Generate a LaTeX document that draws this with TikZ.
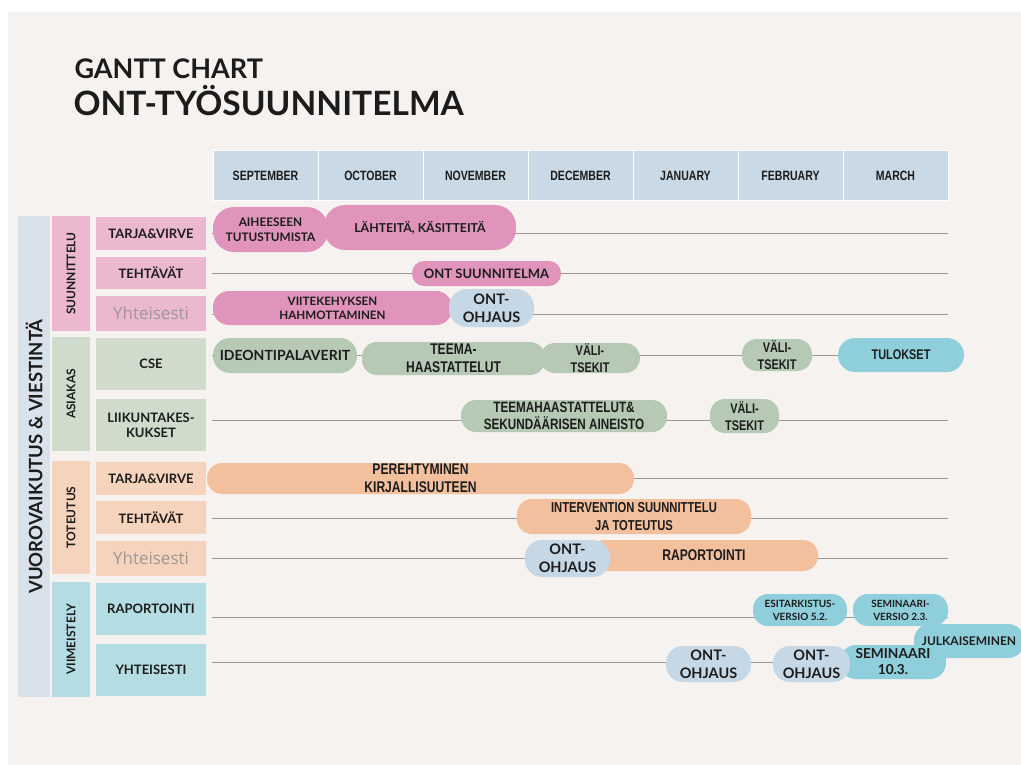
\documentclass[tikz,border=0pt]{standalone}
\usepackage{fontspec}
\setmainfont{Lato}
\newfontfamily\narrowfont{Liberation Sans}[FakeStretch=0.78]
\newfontfamily\lightfont{Open Sans}
\definecolor{paper}{HTML}{F6F2EF}
\definecolor{hdr}{HTML}{C9D9E5}
\definecolor{vuorocol}{HTML}{D9E2EA}
\definecolor{pinkbox}{HTML}{EBB8D0}
\definecolor{pinkbar}{HTML}{E094BB}
\definecolor{greenbox}{HTML}{CFDBCB}
\definecolor{greenbar}{HTML}{B6C9B4}
\definecolor{peachbox}{HTML}{F6D3BC}
\definecolor{peachbar}{HTML}{F2C09D}
\definecolor{cyanbox}{HTML}{B4DCE3}
\definecolor{cyanbar}{HTML}{8FCFDB}
\definecolor{ohjaus}{HTML}{C6D8E6}
\definecolor{linegrey}{HTML}{9C9896}
\definecolor{ink}{HTML}{1C1C1C}
\tikzset{
  month/.style={fill=hdr, draw=white, line width=1pt, minimum width=105pt, minimum height=50pt,
    inner sep=0pt, text=ink, font=\narrowfont\fontsize{13.5}{13.5}\selectfont\bfseries},
  side/.style={fill=#1, rotate=90, inner sep=0pt, text=ink},
  lbl/.style={fill=#1, minimum width=110pt, inner sep=0pt, align=center, text=ink,
    font=\fontsize{13}{15}\selectfont\bfseries},
  yht/.style={fill=#1, minimum width=110pt, inner sep=0pt, text=linegrey,
    font=\lightfont\fontsize{17}{17}\selectfont},
  bar/.style={fill=#1, rounded corners=15pt, inner sep=0pt, align=center, text=ink,
    font=\fontsize{13}{15}\selectfont\bfseries},
  nbar/.style={bar=#1, font=\narrowfont\fontsize{15}{17}\selectfont\bfseries},
  ohjbar/.style={bar=ohjaus, font=\fontsize{14.5}{18}\selectfont\bfseries},
  rowline/.style={draw=linegrey, line width=0.9pt}
}
\begin{document}
\begin{tikzpicture}[x=1pt, y=-1pt]
  \useasboundingbox (0,0) rectangle (1021,765);
  \clip (0,0) rectangle (1021,765);
  \fill[white] (0,0) rectangle (1021,765);
  \fill[paper] (8,12) rectangle (1021,765);

  \node[anchor=base west, text=ink, font=\fontsize{27}{27}\selectfont\bfseries] (gantt) at (71,79) {GANTT CHART};
  \node[anchor=base west, text=ink, font=\fontsize{33.5}{33.5}\selectfont\bfseries] (title) at (70,116) {ONT-TYÖSUUNNITELMA};

  \node[month] (sep) at (265.5,176) {SEPTEMBER};
  \node[month] (oct) at (370.5,176) {OCTOBER};
  \node[month] (nov) at (475.5,176) {NOVEMBER};
  \node[month] (dec) at (580.5,176) {DECEMBER};
  \node[month] (jan) at (685.5,176) {JANUARY};
  \node[month] (feb) at (790.5,176) {FEBRUARY};
  \node[month] (mar) at (895.5,176) {MARCH};

  \node[side=vuorocol, minimum width=481pt, minimum height=32pt,
    font=\fontsize{18.5}{18.5}\selectfont\bfseries] (vuoro) at (34,456.5) {VUOROVAIKUTUS \& VIESTINTÄ};
  \node[side=pinkbox, minimum width=115pt, minimum height=38pt,
    font=\fontsize{12}{12}\selectfont\bfseries] (suunn) at (71,273.5) {SUUNNITTELU};
  \node[side=greenbox, minimum width=114pt, minimum height=38pt,
    font=\fontsize{12}{12}\selectfont\bfseries] (asiakas) at (71,394) {ASIAKAS};
  \node[side=peachbox, minimum width=113pt, minimum height=38pt,
    font=\fontsize{12}{12}\selectfont\bfseries] (toteutus) at (71,517.5) {TOTEUTUS};
  \node[side=cyanbox, minimum width=115pt, minimum height=38pt,
    font=\fontsize{12}{12}\selectfont\bfseries] (viim) at (71,639.5) {VIIMEISTELY};

  \node[lbl=pinkbox, minimum height=33pt] (tv1) at (151,233.5) {TARJA\&VIRVE};
  \node[lbl=pinkbox, minimum height=32pt] (teh1) at (151,273) {TEHTÄVÄT};
  \node[yht=pinkbox, minimum height=35pt] (yht1) at (151,313.5) {Yhteisesti};
  \node[lbl=greenbox, minimum height=52pt] (cse) at (151,364) {CSE};
  \node[lbl=greenbox, minimum height=52pt] (liik) at (151,425) {LIIKUNTAKES-\\KUKSET};
  \node[lbl=peachbox, minimum height=33pt] (tv2) at (151,478.5) {TARJA\&VIRVE};
  \node[lbl=peachbox, minimum height=33pt] (teh2) at (151,517.5) {TEHTÄVÄT};
  \node[yht=peachbox, minimum height=35pt] (yht2) at (151,558.5) {Yhteisesti};
  \node[lbl=cyanbox, minimum height=52pt] (rap) at (151,609) {RAPORTOINTI};
  \node[lbl=cyanbox, minimum height=52pt] (yht3) at (151,670) {YHTEISESTI};

  \coordinate (s1) at (212,233);  \coordinate (e1) at (948,233);
  \coordinate (s2) at (212,273);  \coordinate (e2) at (948,273);
  \coordinate (s3) at (212,314);  \coordinate (e3) at (948,314);
  \coordinate (s4) at (212,355);  \coordinate (e4) at (948,355);
  \coordinate (s5) at (212,420);  \coordinate (e5) at (948,420);
  \coordinate (s6) at (212,478);  \coordinate (e6) at (948,478);
  \coordinate (s7) at (212,518);  \coordinate (e7) at (948,518);
  \coordinate (s8) at (212,558);  \coordinate (e8) at (948,558);
  \coordinate (s9) at (212,617);  \coordinate (e9) at (948,617);
  \coordinate (s10) at (212,662); \coordinate (e10) at (925,662);
  \begin{scope}[rowline]
    \draw (s1) -- (e1);
    \draw (s2) -- (e2);
    \draw (s3) -- (e3);
    \draw (s4) -- (e4);
    \draw (s5) -- (e5);
    \draw (s6) -- (e6);
    \draw (s7) -- (e7);
    \draw (s8) -- (e8);
    \draw (s9) -- (e9);
    \draw (s10) -- (e10);
  \end{scope}

  \node[bar=pinkbar, minimum width=192pt, minimum height=45pt, rounded corners=21pt,
    font=\fontsize{12.3}{14}\selectfont\bfseries] (lahteet) at (420,227.5) {LÄHTEITÄ, KÄSITTEITÄ};
  \node[bar=pinkbar, minimum width=115pt, minimum height=45pt, rounded corners=21pt,
    font=\fontsize{11.8}{15}\selectfont\bfseries] (aihe) at (270.5,229.5) {AIHEESEEN\\TUTUSTUMISTA};
  \node[bar=pinkbar, minimum width=149pt, minimum height=25pt, rounded corners=12pt] (ontsuun) at (486.5,273.5) {ONT SUUNNITELMA};
  \node[bar=pinkbar, minimum width=239pt, minimum height=34pt, rounded corners=16pt,
    font=\fontsize{11.6}{14}\selectfont\bfseries] (viite) at (332.5,308) {VIITEKEHYKSEN\\HAHMOTTAMINEN};
  \node[ohjbar, minimum width=85pt, minimum height=38pt, rounded corners=18pt] (ohj1) at (491.5,308) {ONT-\\OHJAUS};

  \node[bar=greenbar, minimum width=144pt, minimum height=35pt, rounded corners=17pt,
    font=\fontsize{14}{15}\selectfont\bfseries] (ideo) at (285,355.5) {IDEONTIPALAVERIT};
  \node[nbar=greenbar, minimum width=183pt, minimum height=33pt,
    font=\narrowfont\fontsize{15.5}{18}\selectfont\bfseries] (teema) at (453.5,358.5) {TEEMA-\\HAASTATTELUT};
  \node[nbar=greenbar, minimum width=100pt, minimum height=30pt,
    font=\narrowfont\fontsize{14}{17}\selectfont\bfseries] (vali1) at (590,358) {VÄLI-\\TSEKIT};
  \node[nbar=greenbar, minimum width=70pt, minimum height=32pt,
    font=\narrowfont\fontsize{14}{17}\selectfont\bfseries] (vali2) at (777,355) {VÄLI-\\TSEKIT};
  \node[nbar=cyanbar, minimum width=126pt, minimum height=34pt, rounded corners=17pt,
    font=\narrowfont\fontsize{14}{17}\selectfont\bfseries] (tulos) at (901,355) {TULOKSET};
  \node[nbar=greenbar, minimum width=206pt, minimum height=32pt] (teemah) at (564,416) {TEEMAHAASTATTELUT\&\\SEKUNDÄÄRISEN AINEISTO};
  \node[nbar=greenbar, minimum width=69pt, minimum height=34pt,
    font=\narrowfont\fontsize{14}{17}\selectfont\bfseries] (vali3) at (744.5,416) {VÄLI-\\TSEKIT};

  \node[nbar=peachbar, minimum width=427pt, minimum height=31pt,
    font=\narrowfont\fontsize{15.5}{18}\selectfont\bfseries] (pere) at (420.5,478.5) {PEREHTYMINEN\\KIRJALLISUUTEEN};
  \node[nbar=peachbar, minimum width=234pt, minimum height=35pt,
    font=\narrowfont\fontsize{14.4}{18}\selectfont\bfseries] (interv) at (634,516.5) {INTERVENTION SUUNNITTELU\\JA TOTEUTUS};
  \node[nbar=peachbar, minimum width=228pt, minimum height=31pt,
    font=\narrowfont\fontsize{15.5}{17}\selectfont\bfseries] (rapo) at (704,555.5) {RAPORTOINTI};
  \node[ohjbar, minimum width=85pt, minimum height=37pt, rounded corners=17pt] (ohj2) at (567.5,558.5) {ONT-\\OHJAUS};

  \node[bar=cyanbar, minimum width=94pt, minimum height=32pt,
    font=\fontsize{10}{13}\selectfont\bfseries] (esit) at (800,610) {ESITARKISTUS-\\VERSIO 5.2.};
  \node[bar=cyanbar, minimum width=95pt, minimum height=32pt,
    font=\fontsize{10}{13}\selectfont\bfseries] (semv) at (900.5,610) {SEMINAARI-\\VERSIO 2.3.};
  \node[bar=cyanbar, minimum width=110pt, minimum height=34pt, rounded corners=16pt,
    font=\fontsize{12}{14}\selectfont\bfseries] (julk) at (969,641) {JULKAISEMINEN};
  \node[bar=cyanbar, minimum width=106pt, minimum height=34pt, rounded corners=16pt,
    font=\fontsize{13.7}{16}\selectfont\bfseries] (sem) at (893,662) {SEMINAARI\\10.3.};
  \node[ohjbar, minimum width=85pt, minimum height=36pt, rounded corners=17pt] (ohj3) at (708.5,664) {ONT-\\OHJAUS};
  \node[ohjbar, minimum width=77pt, minimum height=36pt, rounded corners=17pt] (ohj4) at (811.5,664) {ONT-\\OHJAUS};
\end{tikzpicture}
\end{document}
